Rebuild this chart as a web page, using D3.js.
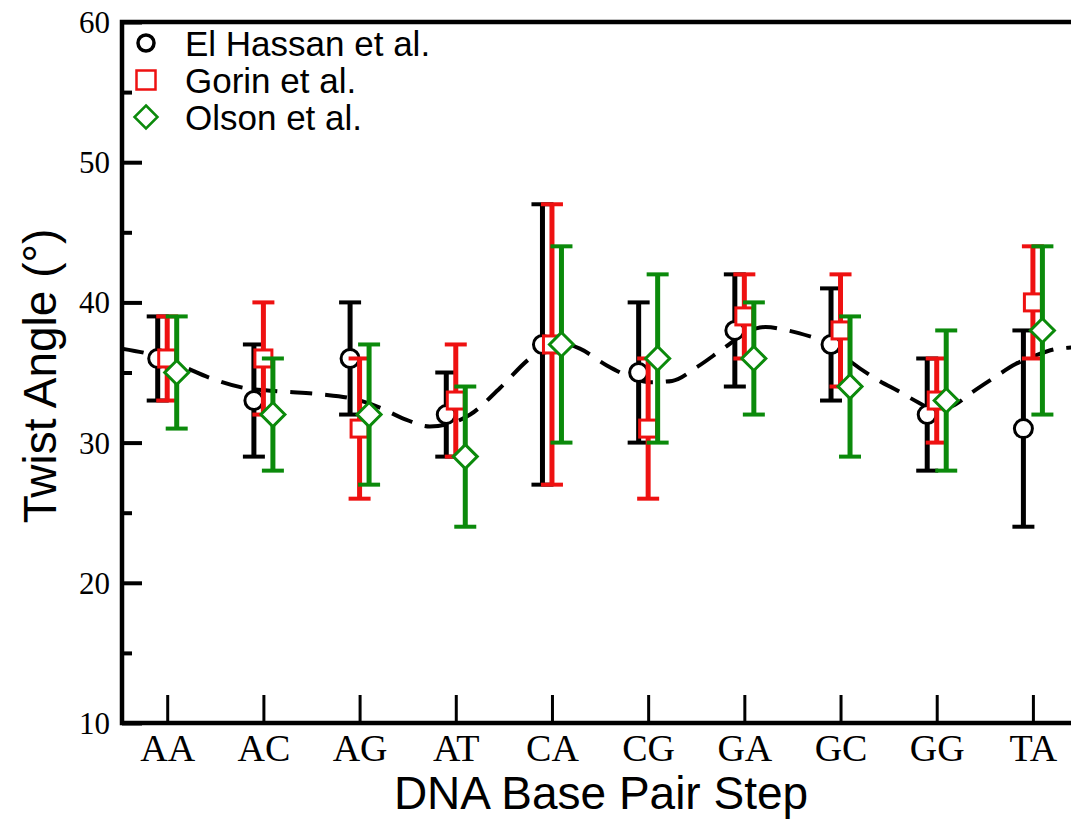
<!DOCTYPE html>
<html>
<head>
<meta charset="utf-8">
<script src="https://cdn.jsdelivr.net/npm/d3@7"></script>
<style>
  html, body { margin: 0; padding: 0; background: #fff; }
  svg { display: block; }
</style>
</head>
<body>
<svg id="chart" width="1071" height="820"></svg>
<script>
// ---------- data ----------
const categories = ["AA", "AC", "AG", "AT", "CA", "CG", "GA", "GC", "GG", "TA"];

const elHassan     = [36, 33, 36, 32, 37, 35, 38, 37, 32, 31];
const elHassanLow  = [33, 29, 32, 29, 27, 30, 34, 33, 28, 24];
const elHassanHigh = [39, 37, 40, 35, 47, 40, 42, 41, 36, 38];

const gorin     = [36, 36, 31, 33, 37, 31, 39, 38, 33, 40];
const gorinLow  = [33, 32, 26, 29, 27, 26, 36, 34, 30, 36];
const gorinHigh = [39, 40, 36, 37, 47, 36, 42, 42, 36, 44];

const olson     = [35, 32, 32, 29, 37, 36, 36, 34, 33, 38];
const olsonLow  = [31, 28, 27, 24, 30, 30, 32, 29, 28, 32];
const olsonHigh = [39, 36, 37, 34, 44, 42, 40, 39, 38, 44];

// dashed reference curve (position in category steps, twist)
const curveStep  = [-0.47, -0.18, 0.14, 0.45, 0.80, 1.18, 1.59, 1.95, 2.21, 2.46, 2.73, 2.91, 3.15, 3.46, 3.77, 4.06, 4.29, 4.57, 4.81, 5.02, 5.25, 5.51, 5.78, 6.06, 6.22, 6.45, 6.72, 6.86, 7.10, 7.38, 7.62, 7.80, 8.00, 8.19, 8.35, 8.59, 8.82, 9.02, 9.26, 9.49];
const curveTwist = [36.7, 36.3, 35.5, 34.6, 33.9, 33.65, 33.45, 33.1, 32.5, 31.7, 31.15, 31.3, 32.0, 33.9, 36.0, 37.15, 36.7, 35.5, 34.7, 34.3, 34.4, 35.4, 36.7, 38.0, 38.25, 38.0, 37.5, 37.2, 35.8, 34.5, 33.6, 32.9, 32.3, 32.7, 33.5, 34.6, 35.6, 36.2, 36.7, 36.8];

const yMajorTicks = [10, 20, 30, 40, 50, 60];
const yMinorTicks = [15, 25, 35, 45, 55];

const seriesNames = ["El Hassan et al.", "Gorin et al.", "Olson et al."];

// ---------- layout ----------
const svg = d3.select("#chart");
const pLeft = 122, pRight = 1081, pTop = 22, pBottom = 723;

const x = d3.scaleLinear().domain([-0.47, 9.5]).range([pLeft, pRight]);
const y = d3.scaleLinear().domain([10, 60]).range([pBottom, pTop]);

const series = [
  { name: seriesNames[0], val: elHassan, lo: elHassanLow, hi: elHassanHigh, color: "#000000", shape: "circle", dx: -9.5 },
  { name: seriesNames[1], val: gorin,    lo: gorinLow,    hi: gorinHigh,    color: "#ee1111", shape: "square", dx: 0 },
  { name: seriesNames[2], val: olson,    lo: olsonLow,    hi: olsonHigh,    color: "#0b8a0b", shape: "diamond", dx: 9.5 }
];

svg.append("defs").append("clipPath").attr("id", "plotclip")
  .append("rect").attr("x", pLeft).attr("y", pTop).attr("width", pRight - pLeft).attr("height", pBottom - pTop);

// ---------- dashed curve ----------
const curveData = curveStep.map((s, i) => [s, curveTwist[i]]);
svg.append("path")
  .datum(curveData)
  .attr("clip-path", "url(#plotclip)")
  .attr("fill", "none")
  .attr("stroke", "#000")
  .attr("stroke-width", 4)
  .attr("stroke-dasharray", "22,13")
  .attr("d", d3.line().x(d => x(d[0])).y(d => y(d[1])).curve(d3.curveMonotoneX));

// ---------- error bars + markers ----------
function drawMarker(g, shape, cx, cy, color, size, sw) {
  if (shape === "circle") {
    g.append("circle").attr("cx", cx).attr("cy", cy).attr("r", size / 2)
      .attr("fill", "#fff").attr("stroke", color).attr("stroke-width", sw);
  } else if (shape === "square") {
    g.append("rect").attr("x", cx - size / 2).attr("y", cy - size / 2)
      .attr("width", size).attr("height", size)
      .attr("fill", "#fff").attr("stroke", color).attr("stroke-width", sw);
  } else {
    const h = size / 2 + 2;
    g.append("path")
      .attr("d", `M${cx},${cy - h}L${cx + h},${cy}L${cx},${cy + h}L${cx - h},${cy}Z`)
      .attr("fill", "#fff").attr("stroke", color).attr("stroke-width", sw);
  }
}

series.forEach(s => {
  const g = svg.append("g");
  categories.forEach((c, i) => {
    const cx = x(i) + s.dx;
    g.append("line").attr("x1", cx).attr("x2", cx)
      .attr("y1", y(s.lo[i])).attr("y2", y(s.hi[i]))
      .attr("stroke", s.color).attr("stroke-width", 5);
    [s.lo[i], s.hi[i]].forEach(v => {
      g.append("line").attr("x1", cx - 11).attr("x2", cx + 11)
        .attr("y1", y(v)).attr("y2", y(v))
        .attr("stroke", s.color).attr("stroke-width", 4);
    });
  });
  categories.forEach((c, i) => {
    const size = s.shape === "circle" ? 18 : (s.shape === "square" ? 17 : 20);
    drawMarker(g, s.shape, x(i) + s.dx, y(s.val[i]), s.color, size, 3);
  });
});

// ---------- axes ----------
svg.append("path")
  .attr("d", `M${pRight},${pTop}H${pLeft}V${pBottom}H${pRight}`)
  .attr("fill", "none").attr("stroke", "#000").attr("stroke-width", 4.5);

const yAxis = svg.append("g").attr("transform", `translate(${pLeft},0)`)
  .call(d3.axisLeft(y).tickValues(yMajorTicks).tickSize(-20).tickPadding(12).tickFormat(d3.format("d")));
yAxis.select(".domain").remove();
yAxis.selectAll(".tick line").attr("stroke", "#000").attr("stroke-width", 4);
yAxis.selectAll(".tick text")
  .attr("x", -12)
  .attr("dy", "0.34em")
  .attr("fill", "#000")
  .style("font-family", "'Liberation Serif', 'Times New Roman', serif")
  .style("font-size", "31px");

const yMinor = svg.append("g").attr("transform", `translate(${pLeft},0)`)
  .call(d3.axisLeft(y).tickValues(yMinorTicks).tickSize(-10).tickFormat(""));
yMinor.select(".domain").remove();
yMinor.selectAll(".tick line").attr("stroke", "#000").attr("stroke-width", 4);

const xAxis = svg.append("g").attr("transform", `translate(0,${pBottom})`)
  .call(d3.axisBottom(x).tickValues(d3.range(categories.length)).tickSize(-28).tickFormat(i => categories[i]));
xAxis.select(".domain").remove();
xAxis.selectAll(".tick line").attr("stroke", "#000").attr("stroke-width", 3);
xAxis.selectAll(".tick text")
  .attr("y", 38)
  .attr("dy", "0")
  .attr("fill", "#000")
  .style("font-family", "'Liberation Serif', 'Times New Roman', serif")
  .style("font-size", "38px");

svg.append("text")
  .attr("x", 601).attr("y", 809)
  .attr("text-anchor", "middle")
  .style("font-family", "'Liberation Sans', Arial, sans-serif")
  .style("font-size", "46px")
  .text("DNA Base Pair Step");

svg.append("text")
  .attr("transform", "translate(56,376) rotate(-90)")
  .attr("text-anchor", "middle")
  .style("font-family", "'Liberation Sans', Arial, sans-serif")
  .style("font-size", "46px")
  .text("Twist Angle (°)");

// ---------- legend ----------
const legend = svg.append("g");
series.forEach((s, i) => {
  const cy = 43 + i * 37;
  drawMarker(legend, s.shape, 146, cy, s.color, s.shape === "circle" ? 16 : 19, s.shape === "circle" ? 3.5 : 2.5);
  legend.append("text")
    .attr("x", 185).attr("y", cy + 12.5)
    .style("font-family", "'Liberation Sans', Arial, sans-serif")
    .style("font-size", "35px")
    .text(s.name);
});
</script>
</body>
</html>
